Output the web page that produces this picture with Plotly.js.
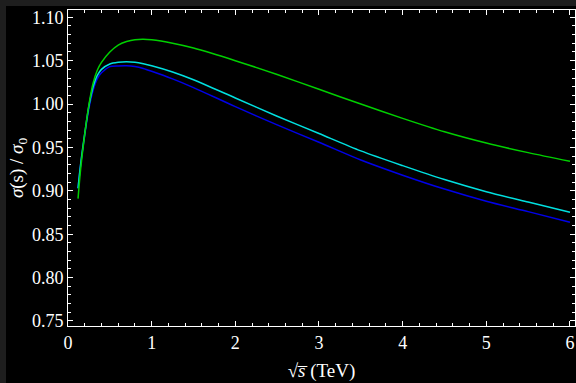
<!DOCTYPE html>
<html>
<head>
<meta charset="utf-8">
<script src="https://cdn.plot.ly/plotly-3.0.1.min.js"></script>
<style>
  html, body { margin: 0; padding: 0; background: #1e1e1e; width: 576px; height: 383px; overflow: hidden; }
  #chart { position: absolute; left: 6px; top: 6px; width: 570px; height: 377px; }
</style>
</head>
<body>
<div id="chart"></div>
<script>
// sqrt(s) in TeV
const sqrtS = [0.12, 0.15, 0.2, 0.25, 0.3, 0.35, 0.4, 0.5, 0.6, 0.7, 0.8, 0.9, 1.0, 1.25, 1.5, 2.0, 2.5, 3.0, 3.5, 4.0, 4.5, 5.0, 5.5, 6.0];
// sigma(s)/sigma0 for three curves
const greenVals = [0.891, 0.924, 0.965, 0.999, 1.024, 1.039, 1.048, 1.060, 1.068, 1.072, 1.0742, 1.0747, 1.0740, 1.0700, 1.0645, 1.050, 1.034, 1.017, 1.000, 0.9835, 0.968, 0.955, 0.944, 0.934];
const cyanVals  = [0.903, 0.930, 0.966, 0.998, 1.020, 1.033, 1.040, 1.0462, 1.0482, 1.0488, 1.0482, 1.0465, 1.0442, 1.037, 1.028, 1.007, 0.986, 0.966, 0.946, 0.929, 0.913, 0.899, 0.887, 0.8753];
const blueVals  = [0.903, 0.929, 0.964, 0.995, 1.016, 1.029, 1.036, 1.0431, 1.0440, 1.0442, 1.0432, 1.041, 1.0378, 1.029, 1.019, 0.997, 0.976, 0.956, 0.9355, 0.918, 0.902, 0.888, 0.876, 0.8638];
const xTicks = [0, 1, 2, 3, 4, 5, 6];
const yTicks = [0.75, 0.80, 0.85, 0.90, 0.95, 1.00, 1.05, 1.10];

const mk = (y, color) => ({
  x: sqrtS, y: y, type: 'scatter', mode: 'lines',
  line: { color: color, width: 1.5, shape: 'spline', smoothing: 0.8 },
  hoverinfo: 'skip'
});

const data = [
  mk(blueVals, '#0000e8'),
  mk(cyanVals, '#00e0e0'),
  mk(greenVals, '#00d000')
];

const fam = '"Liberation Serif", "Times New Roman", serif';
const font = { family: fam, size: 18, color: '#ffffff' };
const titleFont = { family: fam, size: 19, color: '#ffffff' };

const axisCommon = {
  showgrid: false, zeroline: false,
  showline: true, linecolor: '#ffffff', linewidth: 1, mirror: 'ticks',
  ticks: 'inside', ticklen: 5, tickwidth: 1, tickcolor: '#ffffff',
  tickfont: font
};

const layout = {
  width: 570, height: 377,
  paper_bgcolor: '#000000', plot_bgcolor: '#000000',
  margin: { l: 62, r: 1, t: 4, b: 57 },
  showlegend: false,
  font: font,
  xaxis: Object.assign({}, axisCommon, {
    range: [0, 6.06],
    tickmode: 'array', tickvals: xTicks, ticktext: xTicks.map(String),
    minor: { dtick: 0.2, tick0: 0, ticks: 'inside', ticklen: 3, tickcolor: '#ffffff', tickwidth: 1 },
    title: { text: '√<i>s\u0305</i> (TeV)', font: titleFont, standoff: 12 }
  }),
  yaxis: Object.assign({}, axisCommon, {
    range: [0.7442, 1.1084],
    tickmode: 'array', tickvals: yTicks, ticktext: yTicks.map(v => v.toFixed(2)),
    minor: { dtick: 0.01, tick0: 0.75, ticks: 'inside', ticklen: 3, tickcolor: '#ffffff', tickwidth: 1 },
    title: { text: '<i>σ</i>(s) / <i>σ</i><sub>0</sub>', font: titleFont, standoff: 4 }
  })
};

Plotly.newPlot('chart', data, layout, { displayModeBar: false, staticPlot: true });
</script>
</body>
</html>
